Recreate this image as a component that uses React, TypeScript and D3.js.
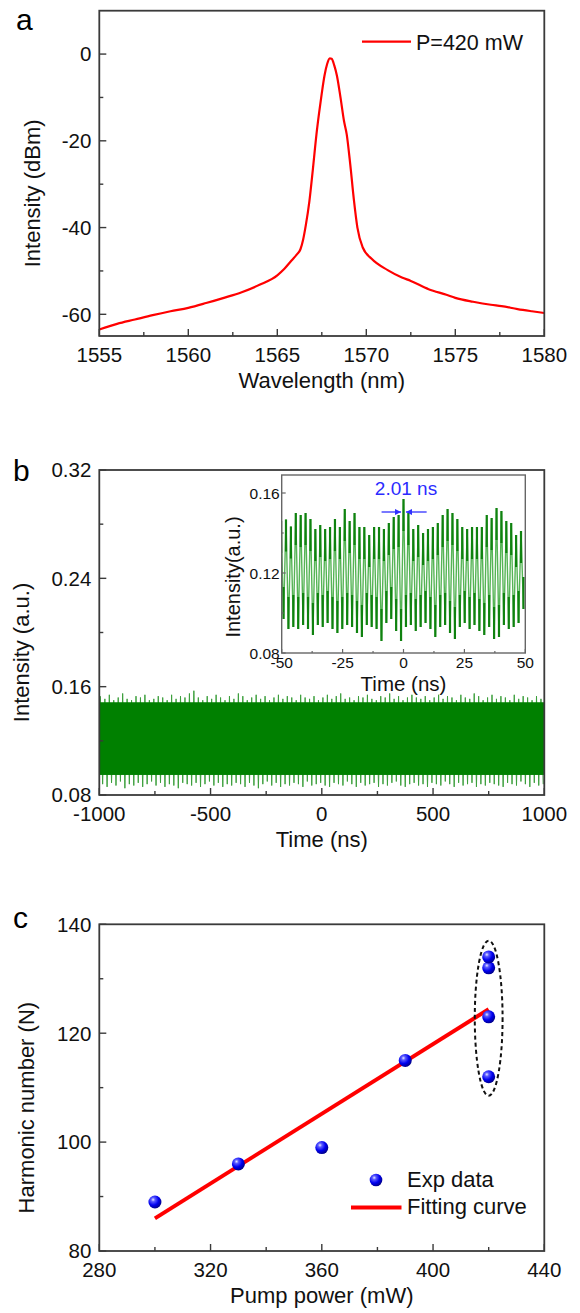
import React from 'react';
import * as d3 from 'd3';

const FONT = "'Liberation Sans', Arial, Helvetica, sans-serif";

// ---------- Panel a: spectrum ----------
const wavelengths = [
  1555.0, 1556.0, 1557.0, 1558.0, 1559.0, 1560.0, 1561.0, 1562.0, 1563.0, 1564.0,
  1565.0, 1565.4, 1565.8, 1566.1, 1566.3, 1566.45, 1566.6, 1566.8, 1567.0, 1567.2,
  1567.35, 1567.5, 1567.65, 1567.8, 1567.95, 1568.05, 1568.2, 1568.35, 1568.55, 1568.75,
  1568.9, 1569.1, 1569.3, 1569.5, 1569.8, 1570.3, 1571.2, 1572.0, 1572.5, 1573.5,
  1574.5, 1575.0, 1576.0, 1577.0, 1577.6, 1578.5, 1579.3, 1580.0,
];
const intensityDbm = [
  -63.5, -62.2, -61.2, -60.2, -59.3, -58.5, -57.4, -56.2, -54.9, -53.2,
  -51.0, -49.5, -47.6, -46.2, -45.0, -42.8, -39.5, -34.0, -26.5, -18.5,
  -13.5, -9.0, -5.0, -2.3, -1.0, -1.1, -2.6, -5.0, -10.0, -15.5,
  -18.5, -25.5, -33.5, -40.0, -44.6, -47.2, -49.8, -51.5, -52.3, -54.2,
  -55.5, -56.2, -57.1, -57.8, -58.1, -58.8, -59.3, -59.7,
];
const aTicksX = [1555, 1560, 1565, 1570, 1575, 1580];
const aMinorX = [1557.5, 1562.5, 1567.5, 1572.5, 1577.5];
const aTicksY = [0, -20, -40, -60];
const aMinorY = [-10, -30, -50];

// ---------- Panel b: pulse train ----------
const mainPeaks = [
  0.153, 0.151, 0.154, 0.150, 0.152, 0.155, 0.151, 0.150, 0.153, 0.152,
  0.154, 0.150, 0.151, 0.153, 0.152, 0.150, 0.154, 0.151, 0.153, 0.152,
  0.155, 0.157, 0.152, 0.150, 0.153, 0.151, 0.154, 0.152, 0.150, 0.153,
  0.151, 0.155, 0.153, 0.150, 0.152, 0.154, 0.151, 0.153, 0.150, 0.152,
  0.154, 0.151, 0.153, 0.152, 0.150, 0.154, 0.152, 0.151, 0.153, 0.150,
  0.152, 0.154, 0.151, 0.153, 0.155, 0.151, 0.152, 0.150, 0.153, 0.152,
  0.154, 0.151, 0.150, 0.153, 0.152, 0.155, 0.151, 0.153, 0.150, 0.152,
  0.154, 0.152, 0.151, 0.153, 0.150, 0.152, 0.154, 0.151, 0.153, 0.152,
  0.150, 0.154, 0.152, 0.151, 0.155, 0.153, 0.150, 0.152, 0.154, 0.151,
  0.153, 0.152, 0.150, 0.154, 0.151, 0.153, 0.152, 0.150, 0.153, 0.151,
];
const mainTroughs = [
  0.088, 0.086, 0.089, 0.087, 0.090, 0.085, 0.088, 0.087, 0.089, 0.086,
  0.088, 0.090, 0.087, 0.089, 0.086, 0.088, 0.087, 0.085, 0.089, 0.088,
  0.087, 0.089, 0.086, 0.088, 0.090, 0.087, 0.089, 0.086, 0.088, 0.087,
  0.089, 0.088, 0.086, 0.089, 0.087, 0.085, 0.088, 0.090, 0.087, 0.089,
  0.086, 0.088, 0.087, 0.089, 0.088, 0.086, 0.090, 0.087, 0.088, 0.089,
  0.087, 0.086, 0.089, 0.088, 0.087, 0.090, 0.088, 0.086, 0.089, 0.087,
  0.088, 0.089, 0.086, 0.088, 0.087, 0.089, 0.090, 0.087, 0.086, 0.088,
  0.089, 0.087, 0.088, 0.086, 0.089, 0.088, 0.087, 0.090, 0.088, 0.086,
  0.089, 0.087, 0.088, 0.089, 0.086, 0.088, 0.087, 0.089, 0.088, 0.087,
  0.086, 0.089, 0.088, 0.087, 0.090, 0.088, 0.086, 0.089, 0.087, 0.088,
];
const mainCoreBand = [0.0948, 0.1485];
const insetPeaks = [
  0.146, 0.1467, 0.1433, 0.150, 0.149, 0.150, 0.147, 0.142, 0.144, 0.142,
  0.143, 0.147, 0.143, 0.152, 0.146, 0.150, 0.143, 0.143, 0.139, 0.143,
  0.143, 0.142, 0.145, 0.148, 0.149, 0.157, 0.150, 0.142, 0.144, 0.140,
  0.142, 0.143, 0.145, 0.149, 0.152, 0.150, 0.147, 0.143, 0.142, 0.143,
  0.143, 0.143, 0.149, 0.1475, 0.1525, 0.151, 0.146, 0.145, 0.139, 0.141,
];
const insetTroughs = [
  0.097, 0.092, 0.093, 0.092, 0.094, 0.092, 0.089, 0.094, 0.093, 0.095,
  0.092, 0.090, 0.092, 0.094, 0.093, 0.090, 0.088, 0.094, 0.093, 0.092,
  0.086, 0.095, 0.097, 0.091, 0.086, 0.093, 0.094, 0.091, 0.093, 0.095,
  0.092, 0.088, 0.093, 0.094, 0.090, 0.087, 0.093, 0.095, 0.092, 0.094,
  0.091, 0.089, 0.093, 0.087, 0.088, 0.094, 0.092, 0.093, 0.095, 0.102,
];
const pulsePeriodNs = 2.01;
const insetCenterIndex = 25;
const bTicksX = [-1000, -500, 0, 500, 1000];
const bMinorX = [-750, -250, 250, 750];
const bTicksY = [0.08, 0.16, 0.24, 0.32];
const bMinorY = [0.12, 0.2, 0.28];
const iTicksX = [-50, -25, 0, 25, 50];
const iMinorX = [-37.5, -12.5, 12.5, 37.5];
const iTicksY = [0.08, 0.12, 0.16];
const iMinorY = [0.1, 0.14];
const arrowLevel = 0.1505;
const arrowSpan = [-9, 9.5];

// ---------- Panel c: harmonic number ----------
const pumpPower = [300, 330, 360, 390, 420, 420, 420, 420];
const harmonicN = [89, 96, 99, 115, 112, 123, 132, 134];
const fitPower = [300, 420];
const fitN = [86, 124.4];
const ellipseX = [415, 425];
const ellipseY = [108.5, 137];
const cTicksX = [280, 320, 360, 400, 440];
const cMinorX = [300, 340, 380, 420];
const cTicksY = [80, 100, 120, 140];
const cMinorY = [90, 110, 130];

const L = 99.3, R = 544.3;

type AxProps = {
  x: d3.ScaleLinear<number, number>;
  y: d3.ScaleLinear<number, number>;
  xt: number[]; xm: number[]; yt: number[]; ym: number[];
  fx: (v: number) => string; fy: (v: number) => string;
  fs: number; maj: number; min: number; gapY: number; gapX: number;
  stroke: string; sw: number; tickSw: number;
};

function Axes(p: AxProps) {
  const [x0, x1] = p.x.range();
  const [y0, y1] = p.y.range(); // y0 bottom, y1 top
  return (
    <g fontFamily={FONT} fill="#111">
      <rect x={x0} y={y1} width={x1 - x0} height={y0 - y1} fill="none" stroke={p.stroke} strokeWidth={p.sw} />
      {p.xt.map((v) => (
        <line key={'xt' + v} x1={p.x(v)} x2={p.x(v)} y1={y0} y2={y0 - p.maj} stroke={p.stroke} strokeWidth={p.tickSw} />
      ))}
      {p.xm.map((v) => (
        <line key={'xm' + v} x1={p.x(v)} x2={p.x(v)} y1={y0} y2={y0 - p.min} stroke={p.stroke} strokeWidth={p.tickSw} />
      ))}
      {p.yt.map((v) => (
        <line key={'yt' + v} x1={x0} x2={x0 + p.maj} y1={p.y(v)} y2={p.y(v)} stroke={p.stroke} strokeWidth={p.tickSw} />
      ))}
      {p.ym.map((v) => (
        <line key={'ym' + v} x1={x0} x2={x0 + p.min} y1={p.y(v)} y2={p.y(v)} stroke={p.stroke} strokeWidth={p.tickSw} />
      ))}
      {p.xt.map((v) => (
        <text key={'xl' + v} x={p.x(v)} y={y0 + p.gapX} textAnchor="middle" fontSize={p.fs}>{p.fx(v)}</text>
      ))}
      {p.yt.map((v) => (
        <text key={'yl' + v} x={x0 - p.gapY} y={p.y(v)} dy="0.36em" textAnchor="end" fontSize={p.fs}>{p.fy(v)}</text>
      ))}
    </g>
  );
}

function Ball({ cx, cy, r }: { cx: number; cy: number; r: number }) {
  return <circle cx={cx} cy={cy} r={r} fill="url(#ballGrad)" />;
}

export default function App() {
  // Panel a
  const ax = d3.scaleLinear().domain([1555, 1580]).range([L, R]);
  const ay = d3.scaleLinear().domain([-65, 10]).range([336, 10.7]);
  const specLine = d3.line<number>()
    .x((_, i) => ax(wavelengths[i]))
    .y((d) => ay(d))
    .curve(d3.curveMonotoneX)(intensityDbm) as string;

  // Panel b
  const bx = d3.scaleLinear().domain([-1000, 1000]).range([L, R]);
  const by = d3.scaleLinear().domain([0.08, 0.32]).range([795, 470]);
  const n = mainPeaks.length;
  const step = 2000 / n;
  const mainPts: [number, number][] = [];
  for (let i = 0; i < n; i++) {
    mainPts.push([-1000 + (i + 0.25) * step, mainPeaks[i]]);
    mainPts.push([-1000 + (i + 0.75) * step, mainTroughs[i]]);
  }
  const mainPath = d3.line<[number, number]>().x((d) => bx(d[0])).y((d) => by(d[1]))(mainPts) as string;

  const ix = d3.scaleLinear().domain([-50, 50]).range([281.7, 525.3]);
  const iy = d3.scaleLinear().domain([0.08, 0.169]).range([653, 475]);
  const insetPts: [number, number][] = [];
  insetPeaks.forEach((v, k) => {
    const t = (k - insetCenterIndex) * pulsePeriodNs;
    insetPts.push([t, v]);
    insetPts.push([t + pulsePeriodNs / 2, insetTroughs[k]]);
  });
  const insetPath = d3.line<[number, number]>().x((d) => ix(d[0])).y((d) => iy(d[1]))(insetPts) as string;

  // Panel c
  const cx = d3.scaleLinear().domain([280, 440]).range([L, R]);
  const cy = d3.scaleLinear().domain([80, 140]).range([1251, 924.3]);

  const fmt2 = (v: number) => v.toFixed(2);
  const fint = (v: number) => String(v);
  const tick = { stroke: '#3a3a3a', sw: 1.8, tickSw: 1.4 };

  const aMid = (336 + 10.7) / 2;
  const bMid = (795 + 470) / 2;
  const cMid = (1251 + 924.3) / 2;

  return (
    <svg width={580} height={1313} style={{ position: 'absolute', left: 0, top: 0, background: '#fff' }} fontFamily={FONT}>
      <defs>
        <clipPath id="clipB"><rect x={L} y={470} width={R - L} height={325} /></clipPath>
        <clipPath id="clipI"><rect x={281.7} y={475} width={525.3 - 281.7} height={653 - 475} /></clipPath>
        <clipPath id="clipA"><rect x={L} y={10.7} width={R - L} height={336 - 10.7} /></clipPath>
        <radialGradient id="ballGrad" cx="0.36" cy="0.32" r="0.7">
          <stop offset="0" stopColor="#e8e8ff" />
          <stop offset="0.22" stopColor="#5a5aff" />
          <stop offset="0.6" stopColor="#0000f0" />
          <stop offset="1" stopColor="#00008a" />
        </radialGradient>
        <marker id="arrR" viewBox="0 0 10 10" refX="10" refY="5" markerWidth="5" markerHeight="5" orient="auto">
          <path d="M0,0 L10,5 L0,10 z" fill="#3030ff" />
        </marker>
      </defs>
      <rect x={0} y={0} width={580} height={1313} fill="#fff" />

      {/* ---------- Panel a ---------- */}
      <text x={16} y={30} fontSize={30}>a</text>
      <g clipPath="url(#clipA)">
        <path d={specLine} fill="none" stroke="#ff0000" strokeWidth={2.2} strokeLinejoin="round" />
      </g>
      <Axes x={ax} y={ay} xt={aTicksX} xm={aMinorX} yt={aTicksY} ym={aMinorY} fx={fint} fy={fint}
        fs={20.5} maj={7} min={4} gapY={8} gapX={25.5} {...tick} />
      <line x1={362} x2={411} y1={41.7} y2={41.7} stroke="#ff0000" strokeWidth={2.2} />
      <text x={416} y={49.5} fontSize={21.5} fill="#111">P=420 mW</text>
      <text x={(L + R) / 2} y={388} textAnchor="middle" fontSize={22} fill="#111">Wavelength (nm)</text>
      <text transform={`translate(40,${aMid + 20}) rotate(-90)`} textAnchor="middle" fontSize={22} fill="#111">Intensity (dBm)</text>

      {/* ---------- Panel b ---------- */}
      <text x={13} y={481} fontSize={30}>b</text>
      <g clipPath="url(#clipB)">
        <path d={mainPath} fill="none" stroke="#3c9f3c" strokeWidth={1} />
        <rect x={bx(-1000)} width={bx(1000) - bx(-1000)} y={by(mainCoreBand[1])} height={by(mainCoreBand[0]) - by(mainCoreBand[1])} fill="#008000" />
      </g>
      <Axes x={bx} y={by} xt={bTicksX} xm={bMinorX} yt={bTicksY} ym={bMinorY} fx={fint} fy={fmt2}
        fs={20.5} maj={7} min={4} gapY={8} gapX={25.5} {...tick} />
      <text x={(L + R) / 2} y={847} textAnchor="middle" fontSize={22} fill="#111">Time (ns)</text>
      <text transform={`translate(29,${bMid + 20}) rotate(-90)`} textAnchor="middle" fontSize={22} fill="#111">Intensity (a.u.)</text>

      {/* inset */}
      <rect x={281.7} y={475} width={525.3 - 281.7} height={653 - 475} fill="#fff" />
      <g clipPath="url(#clipI)">
        <path d={insetPath} fill="none" stroke="#55b455" strokeWidth={1.4} />
        {insetPeaks.map((v, k) => {
          const t = (k - insetCenterIndex) * pulsePeriodNs;
          return <line key={'ip' + k} x1={ix(t)} x2={ix(t)} y1={iy(v)} y2={iy(v - 0.016)} stroke="#0f820f" strokeWidth={2.2} />;
        })}
        {insetTroughs.map((v, k) => {
          const t = (k - insetCenterIndex) * pulsePeriodNs + pulsePeriodNs / 2;
          return <line key={'it' + k} x1={ix(t)} x2={ix(t)} y1={iy(v)} y2={iy(v + 0.016)} stroke="#0f820f" strokeWidth={2.2} />;
        })}
      </g>
      <Axes x={ix} y={iy} xt={iTicksX} xm={iMinorX} yt={iTicksY} ym={iMinorY} fx={fint} fy={fmt2}
        fs={15.5} maj={4} min={2} gapY={2} gapX={14.5} stroke="#666" sw={1.4} tickSw={1.2} />
      <text x={(281.7 + 525.3) / 2} y={691} textAnchor="middle" fontSize={20.5} fill="#111">Time (ns)</text>
      <text transform={`translate(240,${(475 + 653) / 2 + 13}) rotate(-90)`} textAnchor="middle" fontSize={20} fill="#111">Intensity(a.u.)</text>
      <text x={ix(0) + 2.5} y={495} textAnchor="middle" fontSize={19} fill="#2b2bff">2.01 ns</text>
      <line x1={ix(arrowSpan[0])} x2={ix(-pulsePeriodNs / 2)} y1={iy(arrowLevel)} y2={iy(arrowLevel)} stroke="#3030ff" strokeWidth={1.3} markerEnd="url(#arrR)" />
      <line x1={ix(arrowSpan[1])} x2={ix(pulsePeriodNs / 2)} y1={iy(arrowLevel)} y2={iy(arrowLevel)} stroke="#3030ff" strokeWidth={1.3} markerEnd="url(#arrR)" />

      {/* ---------- Panel c ---------- */}
      <text x={13} y={928} fontSize={30}>c</text>
      <line x1={cx(fitPower[0])} y1={cy(fitN[0])} x2={cx(fitPower[1])} y2={cy(fitN[1])} stroke="#ff0000" strokeWidth={4} />
      {pumpPower.map((p, i) => (
        <Ball key={'pt' + i} cx={cx(p)} cy={cy(harmonicN[i])} r={6.5} />
      ))}
      <ellipse cx={cx((ellipseX[0] + ellipseX[1]) / 2)} cy={cy((ellipseY[0] + ellipseY[1]) / 2)}
        rx={(cx(ellipseX[1]) - cx(ellipseX[0])) / 2} ry={(cy(ellipseY[0]) - cy(ellipseY[1])) / 2}
        fill="none" stroke="#111" strokeWidth={2} strokeDasharray="4 3" />
      <Axes x={cx} y={cy} xt={cTicksX} xm={cMinorX} yt={cTicksY} ym={cMinorY} fx={fint} fy={fint}
        fs={20.5} maj={7} min={4} gapY={8} gapX={25.5} {...tick} />
      <Ball cx={376} cy={1180} r={6.3} />
      <text x={407} y={1187} fontSize={22} fill="#111">Exp data</text>
      <line x1={351} x2={401.5} y1={1207.5} y2={1207.5} stroke="#ff0000" strokeWidth={4} />
      <text x={407} y={1214} fontSize={22} fill="#111">Fitting curve</text>
      <text x={(L + R) / 2} y={1303} textAnchor="middle" fontSize={22} fill="#111">Pump power (mW)</text>
      <text transform={`translate(34,${cMid + 20}) rotate(-90)`} textAnchor="middle" fontSize={22} fill="#111">Harmonic number (N)</text>
    </svg>
  );
}
